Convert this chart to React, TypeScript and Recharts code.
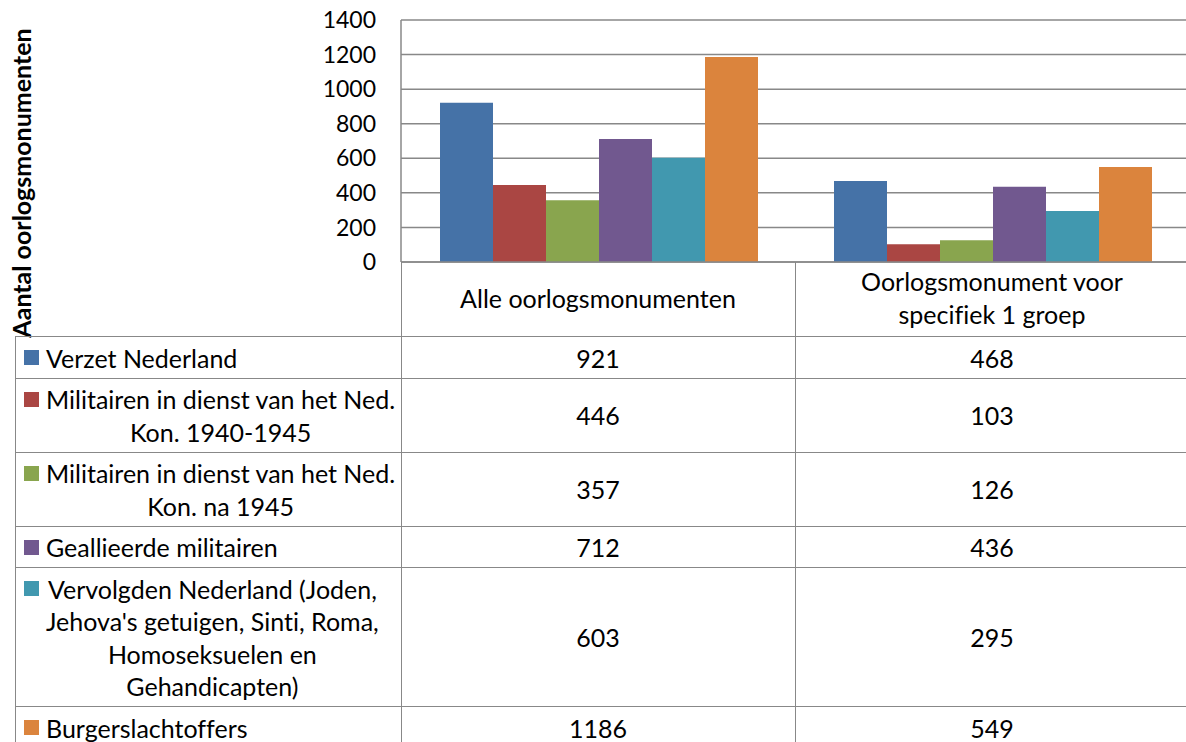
import { BarChart, Bar, XAxis, YAxis, CartesianGrid } from "recharts";

const categories = ["Alle oorlogsmonumenten", "Oorlogsmonument voor\nspecifiek 1 groep"];
const seriesNames = [
  "Verzet Nederland",
  "Militairen in dienst van het Ned.\nKon. 1940-1945",
  "Militairen in dienst van het Ned.\nKon. na 1945",
  "Geallieerde militairen",
  "Vervolgden Nederland (Joden,\nJehova's getuigen, Sinti, Roma,\nHomoseksuelen en\nGehandicapten)",
  "Burgerslachtoffers",
];
const seriesColors = ["#4572A7", "#AA4643", "#89A54E", "#71588F", "#4198AF", "#DB843D"];
const allValues = [921, 446, 357, 712, 603, 1186];
const groupValues = [468, 103, 126, 436, 295, 549];
const yTicks = [0, 200, 400, 600, 800, 1000, 1200, 1400];
const yTitle = "Aantal oorlogsmonumenten";

const columns = [allValues, groupValues];
const data = categories.map((name, j) => {
  const row: any = { name };
  seriesNames.forEach((_, i) => (row["s" + i] = columns[j][i]));
  return row;
});

const FONT = "Lato, 'Open Sans', sans-serif";
const GRID = "#888";
const LINE = 32.5;
const PAD = 9;
const FS = 25;

const CatTick = ({ x, y, payload }: any) => {
  const lines = String(payload.value).split("\n");
  const cy = y + 37;
  return (
    <text textAnchor="middle" fontSize={FS} fontFamily={FONT} fill="#000" style={{ fontVariantLigatures: "none" }}>
      {lines.map((l, i) => (
        <tspan key={i} x={x} y={cy + (i - (lines.length - 1) / 2) * LINE + 8.5}>
          {l}
        </tspan>
      ))}
    </text>
  );
};

export default function App() {
  let top = 336;
  const rows = seriesNames.map((n) => {
    const h = n.split("\n").length * LINE + PAD;
    const r = { top, h };
    top += h;
    return r;
  });

  return (
    <div
      style={{
        position: "absolute", left: 0, top: 0, width: 1186, height: 742,
        overflow: "hidden", background: "#fff", fontFamily: FONT, color: "#000",
        fontVariantLigatures: "none",
      }}
    >
      <BarChart
        width={1190}
        height={340}
        data={data}
        margin={{ top: 20, right: 1, left: 341, bottom: 0 }}
        barCategoryGap={39}
        barGap={0}
      >
        <CartesianGrid vertical={false} stroke={GRID} strokeWidth={1.5} />
        <XAxis
          dataKey="name"
          height={78}
          tickLine={false}
          tickSize={0}
          tickMargin={0}
          axisLine={{ stroke: GRID, strokeWidth: 1.5 }}
          tick={<CatTick />}
          interval={0}
        />
        <YAxis
          width={60}
          domain={[0, 1400]}
          ticks={yTicks}
          tickLine={false}
          tickSize={0}
          tickMargin={25}
          axisLine={{ stroke: GRID, strokeWidth: 1.5 }}
          tick={{ fill: "#000", fontSize: 23, fontFamily: FONT }}
        />
        {seriesNames.map((n, i) => (
          <Bar key={i} dataKey={"s" + i} name={n} fill={seriesColors[i]} isAnimationActive={false} />
        ))}
      </BarChart>

      <div
        style={{
          position: "absolute", left: 21, top: 183, transform: "translate(-50%, -50%) rotate(-90deg)",
          fontWeight: 700, fontSize: FS, whiteSpace: "nowrap",
        }}
      >
        {yTitle}
      </div>

      {/* data table */}
      {rows.map((r, i) => (
        <div
          key={i}
          style={{
            position: "absolute", left: 15, top: r.top, width: 1180, height: r.h,
            borderTop: `1.5px solid ${GRID}`, fontSize: FS, lineHeight: LINE + "px",
          }}
        >
          <div
            style={{
              position: "absolute", left: 9, top: 13, width: 15, height: 15,
              background: seriesColors[i],
            }}
          />
          <div
            style={{
              position: "absolute", left: 31, top: PAD / 2, whiteSpace: "pre",
              textAlign: "center",
            }}
          >
            {seriesNames[i]}
          </div>
          {columns.map((col, j) => (
            <div
              key={j}
              style={{
                position: "absolute", left: 386 + j * 394, width: 394, top: 0, height: r.h,
                display: "flex", alignItems: "center", justifyContent: "center",
              }}
            >
              {col[i]}
            </div>
          ))}
        </div>
      ))}
      <div style={{ position: "absolute", left: 15, top: 336, height: 420, borderLeft: `1.5px solid ${GRID}` }} />
      <div style={{ position: "absolute", left: 400.5, top: 262, height: 500, borderLeft: `1.5px solid ${GRID}` }} />
      <div style={{ position: "absolute", left: 794.5, top: 262, height: 500, borderLeft: `1.5px solid ${GRID}` }} />
    </div>
  );
}
